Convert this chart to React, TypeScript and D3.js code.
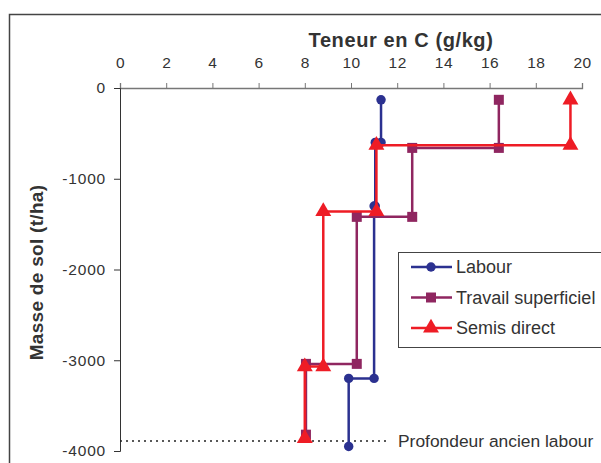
import React, { useEffect, useRef } from 'react';
import * as d3 from 'd3';

// Teneur en C (g/kg) vs masse de sol (t/ha), step profiles
const labourC = [11.3, 11.3, 11.05, 11.05, 11.0, 11.0, 9.9, 9.9];
const labourM = [-130, -600, -600, -1300, -1300, -3200, -3200, -3950];

const travailC = [16.4, 16.4, 12.65, 12.65, 10.25, 10.25, 8.05, 8.05];
const travailM = [-130, -660, -660, -1420, -1420, -3040, -3040, -3820];

const semisC = [19.5, 19.5, 11.1, 11.1, 8.8, 8.8, 8.0, 8.0];
const semisM = [-130, -630, -630, -1360, -1360, -3070, -3070, -3860];

const xTicks = [0, 2, 4, 6, 8, 10, 12, 14, 16, 18, 20];
const yTicks = [0, -1000, -2000, -3000, -4000];

const ancienLabourM = -3890;
const ancienLabourC = [0, 11.6];

const seriesNames = ['Labour', 'Travail superficiel', 'Semis direct'];
const seriesColors = ['#2b3190', '#8f2660', '#ee1c25'];
const seriesSymbols = [d3.symbolCircle, d3.symbolSquare, d3.symbolTriangle];

export default function App() {
  const svgRef = useRef<SVGSVGElement>(null);

  useEffect(() => {
    if (!svgRef.current) return;
    const width = 601;
    const height = 463;
    const svg = d3.select(svgRef.current);
    svg.selectAll('*').remove();
    svg.attr('width', width).attr('height', height);

    const font = 'Arial, "Liberation Sans", sans-serif';

    svg.append('rect').attr('width', width).attr('height', height).attr('fill', '#fff');

    // outer frame (runs off the right and bottom edges)
    svg.append('rect')
      .attr('x', 9.5).attr('y', 14.5)
      .attr('width', 620).attr('height', 480)
      .attr('fill', 'none').attr('stroke', '#444').attr('stroke-width', 1.5);

    const x = d3.scaleLinear().domain([0, 20]).range([120, 582]);
    const y = d3.scaleLinear().domain([0, -4000]).range([88, 451]);

    // x axis on top
    const xAxis = svg.append('g')
      .attr('transform', `translate(0,${y(0)})`)
      .call(d3.axisTop(x).tickValues(xTicks).tickSize(5).tickPadding(15).tickFormat(d => String(d)));
    xAxis.select('.domain').attr('stroke', '#777').attr('stroke-width', 1.3);
    xAxis.selectAll('.tick line').attr('stroke', '#777');
    xAxis.selectAll('text').attr('fill', '#333')
      .style('font-size', '15.5px').style('letter-spacing', '0.5px').style('font-family', font);

    const yAxis = svg.append('g')
      .attr('transform', `translate(${x(0)},0)`)
      .call(d3.axisLeft(y).tickValues(yTicks).tickSize(6).tickPadding(8).tickFormat(d => String(d)));
    yAxis.select('.domain').attr('stroke', '#333').attr('stroke-width', 1);
    yAxis.selectAll('.tick line').attr('stroke', '#333');
    yAxis.selectAll('text').attr('fill', '#333')
      .style('font-size', '15.5px').style('letter-spacing', '0.8px').style('font-family', font);

    svg.append('text')
      .attr('x', 401).attr('y', 47)
      .attr('text-anchor', 'middle')
      .attr('fill', '#333')
      .style('font-size', '20px').style('font-weight', 'bold').style('letter-spacing', '0.6px')
      .style('font-family', font)
      .text('Teneur en C (g/kg)');

    svg.append('text')
      .attr('transform', `translate(43,${(y(0) + y(-4000)) / 2 + 3}) rotate(-90)`)
      .attr('text-anchor', 'middle')
      .attr('fill', '#333')
      .style('font-size', '19px').style('font-weight', 'bold').style('letter-spacing', '0.3px')
      .style('font-family', font)
      .text('Masse de sol (t/ha)');

    // ancien labour depth
    svg.append('line')
      .attr('x1', x(ancienLabourC[0])).attr('x2', x(ancienLabourC[1]))
      .attr('y1', y(ancienLabourM)).attr('y2', y(ancienLabourM))
      .attr('stroke', '#222').attr('stroke-width', 1.5).attr('stroke-dasharray', '2,4');
    svg.append('text')
      .attr('x', 398).attr('y', y(ancienLabourM) + 6)
      .attr('fill', '#333')
      .style('font-size', '17.4px').style('font-family', font)
      .text('Profondeur ancien labour');

    const allC = [labourC, travailC, semisC];
    const allM = [labourM, travailM, semisM];
    const sizes = [70, 100, 110];

    allC.forEach((cs, si) => {
      const pts = cs.map((c, i) => [c, allM[si][i]] as [number, number]);
      const line = d3.line<[number, number]>().x(d => x(d[0])).y(d => y(d[1]));
      svg.append('path')
        .datum(pts)
        .attr('d', line)
        .attr('fill', 'none')
        .attr('stroke', seriesColors[si])
        .attr('stroke-width', 2.5);
      svg.selectAll(`.m${si}`)
        .data(pts)
        .enter()
        .append('path')
        .attr('class', `m${si}`)
        .attr('transform', d => `translate(${x(d[0])},${y(d[1])})`)
        .attr('d', d3.symbol().type(seriesSymbols[si]).size(sizes[si])())
        .attr('fill', seriesColors[si]);
    });

    // legend
    const lg = svg.append('g');
    lg.append('rect')
      .attr('x', 398.5).attr('y', 252.5).attr('width', 210).attr('height', 95)
      .attr('fill', '#fff').attr('stroke', '#444').attr('stroke-width', 1);
    seriesNames.forEach((name, i) => {
      const ly = 267 + i * 30.5;
      lg.append('line')
        .attr('x1', 411).attr('x2', 452).attr('y1', ly).attr('y2', ly)
        .attr('stroke', seriesColors[i]).attr('stroke-width', 2.5);
      lg.append('path')
        .attr('transform', `translate(431,${ly})`)
        .attr('d', d3.symbol().type(seriesSymbols[i]).size(sizes[i])())
        .attr('fill', seriesColors[i]);
      lg.append('text')
        .attr('x', 456).attr('y', ly + 6)
        .attr('fill', '#333')
        .style('font-size', '18px').style('font-family', font)
        .text(name);
    });
  }, []);

  return (
    <div style={{ position: 'absolute', left: 0, top: 0 }}>
      <svg ref={svgRef} style={{ display: 'block' }} />
    </div>
  );
}
